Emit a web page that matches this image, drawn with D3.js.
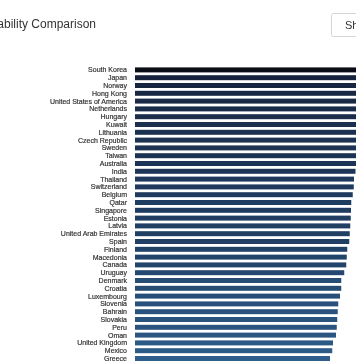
<!DOCTYPE html>
<html>
<head>
<meta charset="utf-8">
<script src="https://cdn.jsdelivr.net/npm/d3@7/dist/d3.min.js"></script>
<style>
  html, body { margin: 0; padding: 0; background: #fff; overflow: hidden; }
  svg { display: block; }
  .labels, .title, .btn { opacity: 0.999; will-change: transform; }
</style>
</head>
<body>
<svg id="chart" width="356" height="364"></svg>
<script>
const titleText = "Affordability Comparison";
const buttonText = "Show Data";

const countries = [
  "South Korea", "Japan", "Norway", "Hong Kong", "United States of America",
  "Netherlands", "Hungary", "Kuwait", "Lithuania", "Czech Republic",
  "Sweden", "Taiwan", "Australia", "India", "Thailand",
  "Switzerland", "Belgium", "Qatar", "Singapore", "Estonia",
  "Latvia", "United Arab Emirates", "Spain", "Finland", "Macedonia",
  "Canada", "Uruguay", "Denmark", "Croatia", "Luxembourg",
  "Slovenia", "Bahrain", "Slovakia", "Peru", "Oman",
  "United Kingdom", "Mexico", "Greece"
];

const values = [
  100.0, 94.0, 93.0, 92.3, 91.7,
  91.1, 90.6, 90.2, 89.8, 89.5,
  89.2, 88.9, 88.6, 88.2, 87.6,
  87.5, 87.1, 86.5, 86.4, 86.3,
  86.1, 85.9, 85.7, 84.9, 84.7,
  84.5, 83.7, 82.5, 82.5, 82.0,
  81.3, 81.1, 80.9, 80.7, 80.4,
  79.2, 78.9, 78.0
];

const data = countries.map((c, i) => ({ country: c, value: values[i] }));

const svg = d3.select("#chart");

svg.append("text")
  .attr("class", "title")
  .attr("x", 96)
  .attr("y", 28)
  .attr("text-anchor", "end")
  .attr("font-family", "Liberation Sans, Arial, sans-serif")
  .attr("font-size", 12)
  .attr("fill", "#333")
  .text(titleText);

const btn = svg.append("g").attr("class", "btn").attr("transform", "translate(331,13)");
btn.append("rect")
  .attr("x", 0.5).attr("y", 0.5)
  .attr("width", 70).attr("height", 23)
  .attr("rx", 2)
  .attr("fill", "#fff")
  .attr("stroke", "#d6d6d6");
btn.append("text")
  .attr("x", 14).attr("y", 16)
  .attr("font-family", "Liberation Sans, Arial, sans-serif")
  .attr("font-size", 11)
  .attr("fill", "#333")
  .text(buttonText);

const x = d3.scaleLinear().domain([0, 100]).range([135, 385]);
const y = d3.scaleBand()
  .domain(countries)
  .range([66, 66 + countries.length * 7.8])
  .paddingInner(0.36)
  .paddingOuter(0.18);

const color = d3.scaleLinear()
  .domain([d3.min(values), 86.5, 94, d3.max(values)])
  .range(["#2f5e8d", "#1f3d60", "#16223b", "#0a0c16"])
  .clamp(true);

svg.append("g")
  .selectAll("rect")
  .data(data)
  .join("rect")
  .attr("x", x(0))
  .attr("y", d => y(d.country))
  .attr("width", d => x(d.value) - x(0))
  .attr("height", y.bandwidth())
  .attr("fill", d => color(d.value));

svg.append("g")
  .attr("class", "labels")
  .selectAll("text")
  .data(data)
  .join("text")
  .attr("x", 127)
  .attr("y", d => y(d.country) + y.bandwidth() / 2)
  .attr("dy", "0.35em")
  .attr("text-anchor", "end")
  .attr("font-family", "Liberation Sans, Arial, sans-serif")
  .attr("font-size", 7)
  .attr("fill", "#2a2a2a")
  .attr("stroke", "#444")
  .attr("stroke-width", 0.2)
  .text(d => d.country);
</script>
</body>
</html>
